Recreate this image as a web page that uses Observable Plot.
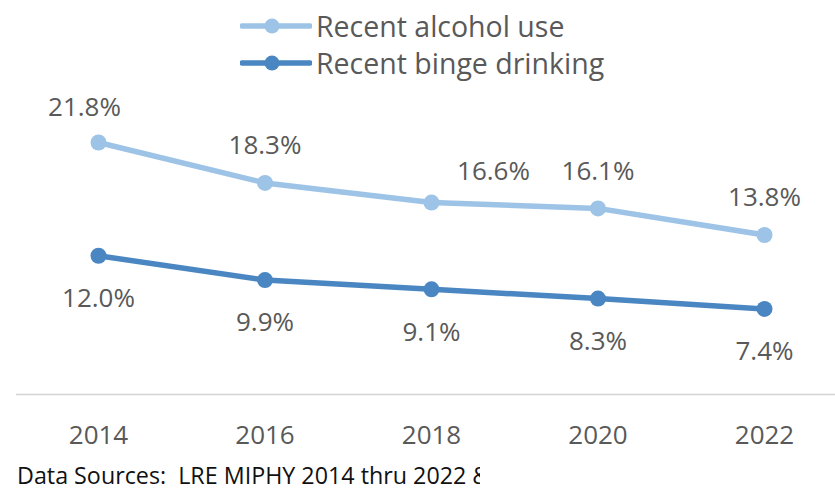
<!DOCTYPE html>
<html>
<head>
<meta charset="utf-8">
<script src="https://cdn.jsdelivr.net/npm/d3@7"></script>
<script src="https://cdn.jsdelivr.net/npm/@observablehq/plot@0.6"></script>
<style>
  html, body { margin: 0; padding: 0; background: #fff; }
  body { width: 835px; height: 488px; position: relative; overflow: hidden; font-family: "Open Sans", sans-serif; color: #595959; }
  #legend { position: absolute; left: 0; top: 0; width: 835px; height: 85px; }
  .lg-row { position: absolute; left: 240px; height: 36px; display: flex; align-items: center; font-size: 28.5px; white-space: nowrap; }
  .lg-row svg { margin-right: 4px; }
  #chart { position: absolute; left: 0; top: 85px; }
  #caption { position: absolute; left: 17px; top: 460px; width: 463px; height: 28px; overflow: hidden; white-space: pre; font-size: 24px; line-height: 30px; color: #111; }
  #caption span { display: inline-block; transform: scaleX(0.97); transform-origin: 0 50%; }
</style>
</head>
<body>
<div id="legend"></div>
<div id="chart"></div>
<div id="caption"><span></span></div>
<script>
const years = [2014, 2016, 2018, 2020, 2022];
const alcoholUse = [21.8, 18.3, 16.6, 16.1, 13.8];
const bingeDrinking = [12.0, 9.9, 9.1, 8.3, 7.4];
const seriesNames = ["Recent alcohol use", "Recent binge drinking"];
const seriesColors = ["#9dc3e6", "#4a86c2"];
const captionText = "Data Sources:  LRE MIPHY 2014 thru 2022 & ";

const rows = [];
years.forEach((y, i) => {
  rows.push({year: y, value: alcoholUse[i], series: seriesNames[0]});
  rows.push({year: y, value: bingeDrinking[i], series: seriesNames[1]});
});
const alc = rows.filter(d => d.series === seriesNames[0]);
const binge = rows.filter(d => d.series === seriesNames[1]);
const fmt = d => d.value.toFixed(1) + "%";

const textColor = "#595959";
const font = "Open Sans";

const chart = Plot.plot({
  width: 835,
  height: 370,
  marginLeft: 98,
  marginRight: 71,
  marginTop: 20,
  marginBottom: 61,
  style: {fontFamily: font, color: textColor, background: "transparent"},
  x: {domain: [2014, 2022], ticks: years, tickFormat: d => String(d), label: null},
  y: {domain: [0, 25], axis: null},
  color: {domain: seriesNames, range: seriesColors},
  marks: [
    Plot.ruleY([0], {stroke: "#d4d4d4", strokeWidth: 1.5, insetLeft: -82, insetRight: -71}),
    Plot.axisX({ticks: years, tickSize: 0, tickPadding: 31, fontSize: 26, fill: textColor, label: null, tickFormat: d => String(d)}),
    Plot.line(rows, {x: "year", y: "value", z: "series", stroke: "series", strokeWidth: 5.5, strokeLinejoin: "round"}),
    Plot.dot(rows, {x: "year", y: "value", fill: "series", r: 8}),
    // alcohol labels above
    Plot.text(alc.filter(d => d.year === 2014), {x: "year", y: "value", text: fmt, dy: -35, dx: -14, fontSize: 26, fill: textColor}),
    Plot.text(alc.filter(d => d.year !== 2014 && d.year !== 2018), {x: "year", y: "value", text: fmt, dy: -37, fontSize: 26, fill: textColor}),
    Plot.text(alc.filter(d => d.year === 2018), {x: "year", y: "value", text: fmt, dy: -31, dx: 62, fontSize: 26, fill: textColor}),
    // binge labels below
    Plot.text(binge, {x: "year", y: "value", text: fmt, dy: 43, fontSize: 26, fill: textColor})
  ]
});
document.getElementById("chart").appendChild(chart);

// legend
const legend = document.getElementById("legend");
seriesNames.forEach((name, i) => {
  const row = document.createElement("div");
  row.className = "lg-row";
  row.style.top = (8 + i * 37) + "px";
  const c = seriesColors[i];
  row.innerHTML = `<svg width="72" height="36"><line x1="2" x2="70" y1="18" y2="18" stroke="${c}" stroke-width="5.5" stroke-linecap="round"/><circle cx="32" cy="18" r="7.5" fill="${c}"/></svg><span>${name}</span>`;
  legend.appendChild(row);
});

document.querySelector("#caption span").textContent = captionText;
</script>
</body>
</html>
